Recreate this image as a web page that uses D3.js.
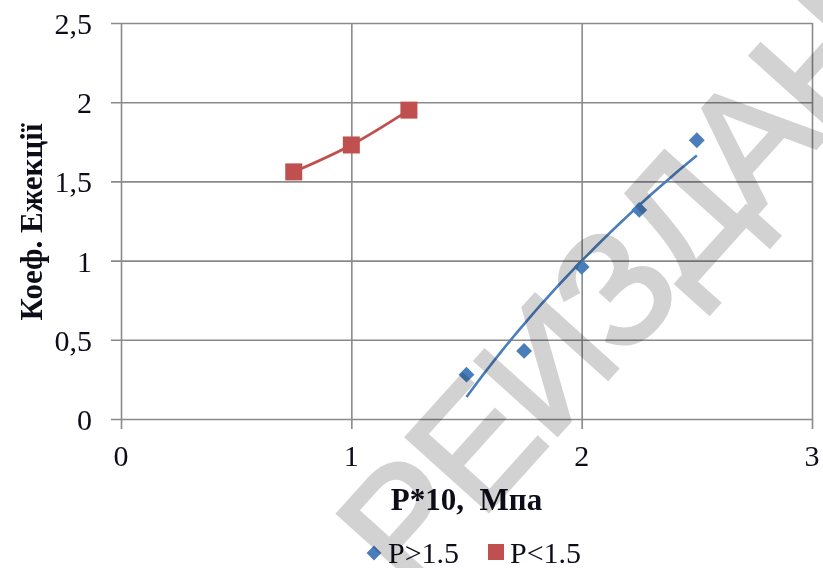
<!DOCTYPE html>
<html>
<head>
<meta charset="utf-8">
<script src="https://cdn.jsdelivr.net/npm/d3@7/dist/d3.min.js"></script>
<style>
  html, body { margin: 0; padding: 0; background: #fff; }
  svg { display: block; }
  text { font-family: "Liberation Serif", "Times New Roman", serif; fill: #0d0d1a; white-space: pre; }
  text.stamp { font-family: "Liberation Sans", Arial, sans-serif; fill: #d2d2d2; stroke: #d2d2d2; stroke-width: 4; stroke-linejoin: miter; mix-blend-mode: multiply; }
</style>
</head>
<body>
<svg id="chart" width="823" height="568"></svg>
<script>
// Measured series: ejection coefficient vs pressure (P*10, MPa)
const highP = [1.5, 1.75, 2.0, 2.25, 2.5];      // P > 1.5
const highK = [0.28, 0.43, 0.96, 1.32, 1.76];
const lowP  = [0.75, 1.0, 1.25];                // P < 1.5
const lowK  = [1.56, 1.73, 1.95];

const xTicks = [0, 1, 2, 3];
const yTicks = [0, 0.5, 1, 1.5, 2, 2.5];

const seriesNames = ["P>1.5", "P<1.5"];
const xTitle = "P*10,  Мпа";
const yTitle = "Коеф. Ежекції";
const stamp = "РЕИЗДАН";

const blue = "#4a7ebb", red = "#c0504d", grid = "#8a8a8a";

const svg = d3.select("#chart");
const plotL = 121, plotR = 812, plotT = 23, plotB = 419;

const x = d3.scaleLinear().domain([0, 3]).range([plotL, plotR]);
const y = d3.scaleLinear().domain([0, 2.5]).range([plotB, plotT]);
const fmt = v => String(v).replace(".", ",");

// grid + axes
const yAxis = d3.axisLeft(y).tickValues(yTicks).tickSize(-(plotR - plotL)).tickSizeOuter(0).tickPadding(0).tickFormat("");
const gy = svg.append("g").attr("transform", `translate(${plotL},0)`).call(yAxis);
gy.select(".domain").remove();
gy.selectAll(".tick line").attr("x1", -10).attr("x2", plotR - plotL).attr("stroke", grid).attr("stroke-width", 1.6);

const xAxis = d3.axisBottom(x).tickValues(xTicks).tickSize(-(plotB - plotT)).tickSizeOuter(0).tickFormat("");
const gx = svg.append("g").attr("transform", `translate(0,${plotB})`).call(xAxis);
gx.select(".domain").remove();
gx.selectAll(".tick line").attr("y1", 10).attr("y2", -(plotB - plotT)).attr("stroke", grid).attr("stroke-width", 1.6);

// tick labels
svg.append("g").selectAll("text").data(yTicks).join("text")
  .attr("x", 92).attr("y", d => y(d) + 11)
  .attr("text-anchor", "end").attr("font-size", 30)
  .text(fmt);
svg.append("g").selectAll("text").data(xTicks).join("text")
  .attr("x", d => x(d)).attr("y", plotB + 47)
  .attr("text-anchor", "middle").attr("font-size", 30)
  .text(fmt);

// axis titles
svg.append("text").attr("x", (plotL + plotR) / 2).attr("y", 510)
  .attr("text-anchor", "middle").attr("font-size", 31).attr("font-weight", "bold")
  .text(xTitle);
svg.append("text").attr("transform", `translate(42,${(plotT + plotB) / 2 + 1}) rotate(-90)`)
  .attr("text-anchor", "middle").attr("font-size", 31).attr("font-weight", "bold")
  .text(yTitle);

// logarithmic least-squares trend for the high-pressure series
const lx = highP.map(Math.log);
const mx = d3.mean(lx), my = d3.mean(highK);
const b = d3.sum(lx, (v, i) => (v - mx) * (highK[i] - my)) / d3.sum(lx, v => (v - mx) ** 2);
const a = my - b * mx;
const [p0, p1] = d3.extent(highP);
const trendPts = d3.range(0, 41).map(i => { const p = p0 + (p1 - p0) * i / 40; return [p, a + b * Math.log(p)]; });

const line = d3.line().x(d => x(d[0])).y(d => y(d[1]));
svg.append("path").datum(trendPts).attr("d", line)
  .attr("fill", "none").attr("stroke", blue).attr("stroke-width", 2.6);

// smoothed low-pressure line
const lowPts = lowP.map((p, i) => [p, lowK[i]]);
svg.append("path").datum(lowPts).attr("d", d3.line().x(d => x(d[0])).y(d => y(d[1])).curve(d3.curveCatmullRom.alpha(0)))
  .attr("fill", "none").attr("stroke", red).attr("stroke-width", 2.8);

// markers
const diamond = d3.symbol().type(d3.symbolDiamond2).size(160);
svg.append("g").selectAll("path").data(highP).join("path")
  .attr("d", diamond)
  .attr("transform", (d, i) => `translate(${x(d)},${y(highK[i])})`)
  .attr("fill", blue);
const sq = 17;
svg.append("g").selectAll("rect").data(lowP).join("rect")
  .attr("x", d => x(d) - sq / 2).attr("y", (d, i) => y(lowK[i]) - sq / 2)
  .attr("width", sq).attr("height", sq).attr("fill", red);

// legend
const lg = svg.append("g");
lg.append("path").attr("d", d3.symbol().type(d3.symbolDiamond2).size(140)).attr("transform", "translate(374,553)").attr("fill", blue);
lg.append("text").attr("x", 388).attr("y", 563).attr("font-size", 30).text(seriesNames[0]);
lg.append("rect").attr("x", 488).attr("y", 544).attr("width", 16).attr("height", 16).attr("fill", red);
lg.append("text").attr("x", 510).attr("y", 563).attr("font-size", 30).text(seriesNames[1]);

// diagonal stamp across the sheet
svg.append("text").attr("class", "stamp")
  .attr("transform", "translate(612,288) rotate(-48)")
  .attr("text-anchor", "middle").attr("dy", "0.36em")
  .attr("font-size", 160)
  .attr("letter-spacing", -4)
  .text(stamp);
</script>
</body>
</html>
